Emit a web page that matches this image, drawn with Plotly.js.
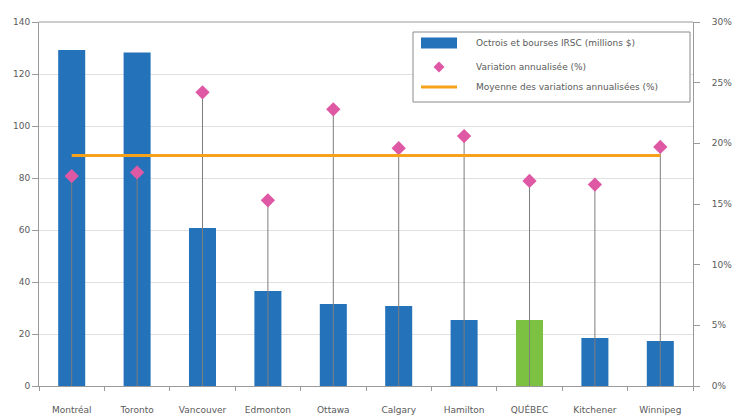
<!DOCTYPE html>
<html>
<head>
<meta charset="utf-8">
<script src="https://cdn.plot.ly/plotly-3.0.1.min.js"></script>
<style>
  html, body { margin: 0; padding: 0; background: #fff; }
  #chart { width: 733px; height: 418px; }
</style>
</head>
<body>
<div id="chart"></div>
<script>
// Villes classées selon les octrois et bourses IRSC
const villes = ["Montréal", "Toronto", "Vancouver", "Edmonton", "Ottawa", "Calgary", "Hamilton", "QUÉBEC", "Kitchener", "Winnipeg"];
// Octrois et bourses IRSC (millions $)
const octrois = [129.2, 128.3, 60.8, 36.5, 31.5, 30.8, 25.4, 25.4, 18.5, 17.3];
// Variation annualisée (%)
const variation = [17.3, 17.6, 24.2, 15.3, 22.8, 19.6, 20.6, 16.9, 16.6, 19.7];
// Moyenne des variations annualisées (%)
const moyenne = 19.0;

const leftTicks = [0, 20, 40, 60, 80, 100, 120, 140];
const rightTicks = [0, 5, 10, 15, 20, 25, 30];
const rightLabels = ["0%", "5%", "10%", "15%", "20%", "25%", "30%"];

const legendLabels = [
  "Octrois et bourses IRSC (millions $)",
  "Variation annualisée (%)",
  "Moyenne des variations annualisées (%)"
];

const bleu = "#2473ba";
const vert = "#7cc142";
const rose = "#de58a4";
const orange = "#f7a21b";
const texte = "#5a5a5a";
const axe = "#9a9a9a";
const police = "DejaVu Sans, Liberation Sans, Arial, sans-serif";

const W = 733, H = 418;
const M = { l: 39, r: 40, t: 22, b: 32 };
const plotW = W - M.l - M.r, plotH = H - M.t - M.b;
// pixel position -> plot-area fraction, for the hand-drawn legend
const fx = px => (px - M.l) / plotW;
const fy = py => (H - M.b - py) / plotH;

const barColors = villes.map(v => v === "QUÉBEC" ? vert : bleu);

const traces = [
  {
    type: "bar",
    name: legendLabels[0],
    x: villes,
    y: octrois,
    marker: { color: barColors },
    yaxis: "y"
  },
  {
    type: "scatter",
    mode: "markers",
    name: legendLabels[1],
    x: villes,
    y: variation,
    yaxis: "y2",
    marker: { symbol: "diamond", size: 11, color: rose },
    error_y: {
      type: "data",
      symmetric: false,
      array: variation.map(() => 0),
      arrayminus: variation,
      width: 0,
      thickness: 1,
      color: "#7d7d7d"
    }
  },
  {
    type: "scatter",
    mode: "lines",
    name: legendLabels[2],
    x: villes,
    y: villes.map(() => moyenne),
    yaxis: "y2",
    line: { color: orange, width: 3 }
  }
];

// Legend box drawn by hand so the swatches keep their wide shape
const lgX0 = 413, lgX1 = 690, lgY0 = 32, lgY1 = 102;
const swX0 = 421, swX1 = 457, txtX = 474;
const rowY = [43, 67, 87];
const dm = 5.5; // half-size of the diamond swatch

const shapes = [
  { type: "line", xref: "paper", yref: "paper", x0: 0, x1: 1, y0: 1, y1: 1,
    line: { color: axe, width: 1 } },
  { type: "rect", xref: "paper", yref: "paper",
    x0: fx(lgX0), x1: fx(lgX1), y0: fy(lgY1), y1: fy(lgY0),
    line: { color: "#8a8a8a", width: 1 }, fillcolor: "#fff", layer: "above" },
  { type: "rect", xref: "paper", yref: "paper",
    x0: fx(swX0), x1: fx(swX1), y0: fy(rowY[0] + 5.5), y1: fy(rowY[0] - 5.5),
    line: { width: 0 }, fillcolor: bleu, layer: "above" },
  { type: "path", xref: "paper", yref: "paper",
    path: "M " + fx(439) + "," + fy(rowY[1] - dm) +
          " L " + fx(439 + dm) + "," + fy(rowY[1]) +
          " L " + fx(439) + "," + fy(rowY[1] + dm) +
          " L " + fx(439 - dm) + "," + fy(rowY[1]) + " Z",
    line: { width: 0 }, fillcolor: rose, layer: "above" },
  { type: "line", xref: "paper", yref: "paper",
    x0: fx(swX0), x1: fx(swX1), y0: fy(rowY[2]), y1: fy(rowY[2]),
    line: { color: orange, width: 3 }, layer: "above" }
];

const annotations = legendLabels.map((t, i) => ({
  xref: "paper", yref: "paper",
  x: fx(txtX), y: fy(rowY[i]),
  xanchor: "left", yanchor: "middle",
  text: t, showarrow: false,
  font: { family: police, size: 9, color: texte }
}));

const layout = {
  width: W,
  height: H,
  margin: M,
  paper_bgcolor: "#fff",
  plot_bgcolor: "#fff",
  font: { family: police, size: 9, color: texte },
  showlegend: false,
  bargap: 0.587,
  xaxis: {
    type: "category",
    range: [-0.5, villes.length - 0.5],
    showline: true, linecolor: axe, linewidth: 1,
    ticks: "outside", ticklen: 4, tickcolor: axe,
    tickson: "boundaries",
    ticklabelstandoff: 15,
    showgrid: false,
    tickfont: { family: police, size: 9, color: texte }
  },
  yaxis: {
    range: [0, 140],
    tickvals: leftTicks,
    showline: true, linecolor: axe, linewidth: 1,
    ticks: "outside", ticklen: 6, tickcolor: axe,
    gridcolor: "#e0e0e0",
    zeroline: false
  },
  yaxis2: {
    overlaying: "y",
    side: "right",
    range: [0, 30],
    tickvals: rightTicks,
    ticktext: rightLabels,
    showline: true, linecolor: axe, linewidth: 1,
    ticks: "outside", ticklen: 6, tickcolor: axe,
    ticklabelstandoff: 10,
    showgrid: false,
    zeroline: false
  },
  shapes: shapes,
  annotations: annotations
};

Plotly.newPlot("chart", traces, layout, { displayModeBar: false, staticPlot: true });
</script>
</body>
</html>
